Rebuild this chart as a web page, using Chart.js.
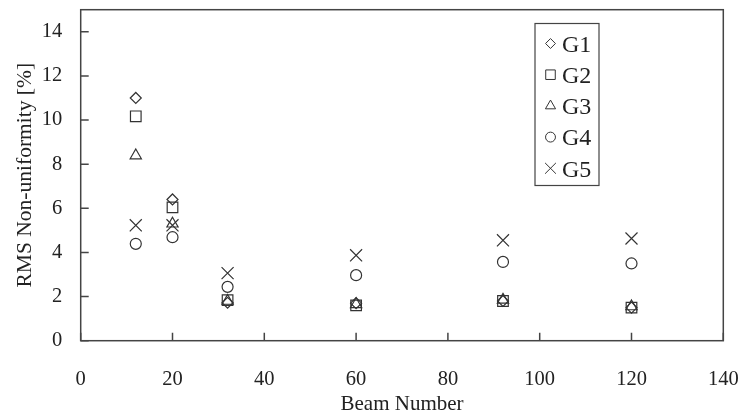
<!DOCTYPE html>
<html>
<head>
<meta charset="utf-8">
<script src="https://cdn.jsdelivr.net/npm/chart.js@4/dist/chart.umd.min.js"></script>
<style>
  html, body { margin: 0; padding: 0; background: #fff; }
  #wrap { width: 743px; height: 420px; }
</style>
</head>
<body>
<div id="wrap"><canvas id="chart" width="743" height="420"></canvas></div>
<script>
// beam numbers (x) and RMS non-uniformity [%] per group
var beams = [12, 20, 32, 60, 92, 120];
var g1 = [11.0, 6.4, 1.72, 1.7, 1.8, 1.5];
var g2 = [10.17, 6.04, 1.84, 1.6, 1.8, 1.5];
var g3 = [8.39, 5.3, 1.8, 1.65, 1.85, 1.55];
var g4 = [4.39, 4.69, 2.44, 2.97, 3.57, 3.5];
var g5 = [5.23, 5.23, 3.06, 3.87, 4.55, 4.63];

var seriesNames = ["G1", "G2", "G3", "G4", "G5"];
var xTicks = [0, 20, 40, 60, 80, 100, 120, 140];
var yTicks = [0, 2, 4, 6, 8, 10, 12, 14];

var markColor = "#333";
var axisColor = "#444";
var textColor = "#222";
var serif = "'Liberation Serif', 'Times New Roman', serif";

function toPoints(values)
{
    return beams.map((b, i) => ({x: b, y: values[i]}));
}

var styles = [
    {pointStyle: "rectRot", radius: 5.5},
    {pointStyle: "rect", radius: 7.5},
    {pointStyle: "triangle", radius: 6.5},
    {pointStyle: "circle", radius: 5.5},
    {pointStyle: "crossRot", radius: 8.5}
];

var allValues = [g1, g2, g3, g4, g5];
var datasets = allValues.map((vals, i) => ({
    label: seriesNames[i],
    data: toPoints(vals),
    pointStyle: styles[i].pointStyle,
    pointRadius: styles[i].radius,
    pointHoverRadius: styles[i].radius,
    borderColor: markColor,
    backgroundColor: "rgba(0,0,0,0)",
    pointBorderWidth: 1.2,
    showLine: false
}));

// inward tick marks, box frame and the boxed legend inside the plot
var framePlugin = {
    id: "frame",
    afterDraw(chart) {
        const ctx = chart.ctx;
        const area = chart.chartArea;
        const xs = chart.scales.x;
        const ys = chart.scales.y;
        ctx.save();
        ctx.strokeStyle = axisColor;
        ctx.lineWidth = 1.5;
        ctx.strokeRect(area.left, area.top, area.right - area.left, area.bottom - area.top);
        ctx.beginPath();
        xTicks.forEach(v => {
            const px = xs.getPixelForValue(v);
            ctx.moveTo(px, area.bottom);
            ctx.lineTo(px, area.bottom - 8);
        });
        yTicks.forEach(v => {
            const py = ys.getPixelForValue(v);
            ctx.moveTo(area.left, py);
            ctx.lineTo(area.left + 8, py);
        });
        ctx.stroke();

        // legend box
        ctx.lineWidth = 1.2;
        ctx.strokeStyle = axisColor;
        ctx.strokeRect(535, 23.5, 64, 162);
        ctx.font = "24px " + serif;
        ctx.textBaseline = "middle";
        ctx.textAlign = "left";
        seriesNames.forEach((name, i) => {
            const y = 43.5 + i * 31.2;
            ctx.strokeStyle = markColor;
            ctx.lineWidth = 1;
            ctx.fillStyle = "rgba(0,0,0,0)";
            Chart.helpers.drawPoint(ctx, {
                pointStyle: styles[i].pointStyle,
                radius: styles[i].radius * 0.9,
                rotation: 0,
                borderWidth: 1
            }, 550.5, y);
            ctx.fillStyle = textColor;
            ctx.fillText(name, 562, y + 2);
        });
        ctx.restore();
    }
};

const ctx = document.getElementById("chart").getContext("2d");
const myChart = new Chart(ctx, {
    type: "scatter",
    data: {datasets: datasets},
    options: {
        responsive: false,
        animation: false,
        layout: {padding: {top: 8.5, right: 19.7, left: 0, bottom: 0}},
        plugins: {legend: {display: false}, tooltip: {enabled: false}},
        scales: {
            x: {
                type: "linear",
                min: 0,
                max: 140,
                afterBuildTicks: axis => { axis.ticks = xTicks.map(v => ({value: v})); },
                afterFit: scale => {
                    scale.height = 79.3;
                    scale.paddingLeft = 0;
                    scale.paddingRight = 0;
                },
                grid: {display: false, drawTicks: false},
                border: {display: false},
                ticks: {color: textColor, font: {family: serif, size: 20.5}, padding: 27, maxRotation: 0},
                title: {display: true, text: "Beam Number", color: textColor,
                        font: {family: serif, size: 21}, padding: {top: 0, bottom: 3}}
            },
            y: {
                type: "linear",
                min: 0,
                max: 15,
                afterBuildTicks: axis => { axis.ticks = yTicks.map(v => ({value: v})); },
                afterFit: scale => {
                    scale.width = 80.7;
                    scale.paddingTop = 0;
                    scale.paddingBottom = 0;
                },
                grid: {display: false, drawTicks: false},
                border: {display: false},
                ticks: {color: textColor, font: {family: serif, size: 20.5}, padding: 18.5},
                title: {display: true, text: "RMS Non-uniformity [%]", color: textColor,
                        font: {family: serif, size: 21.5}, padding: {top: 12, bottom: 0}}
            }
        }
    },
    plugins: [framePlugin]
});
</script>
</body>
</html>
